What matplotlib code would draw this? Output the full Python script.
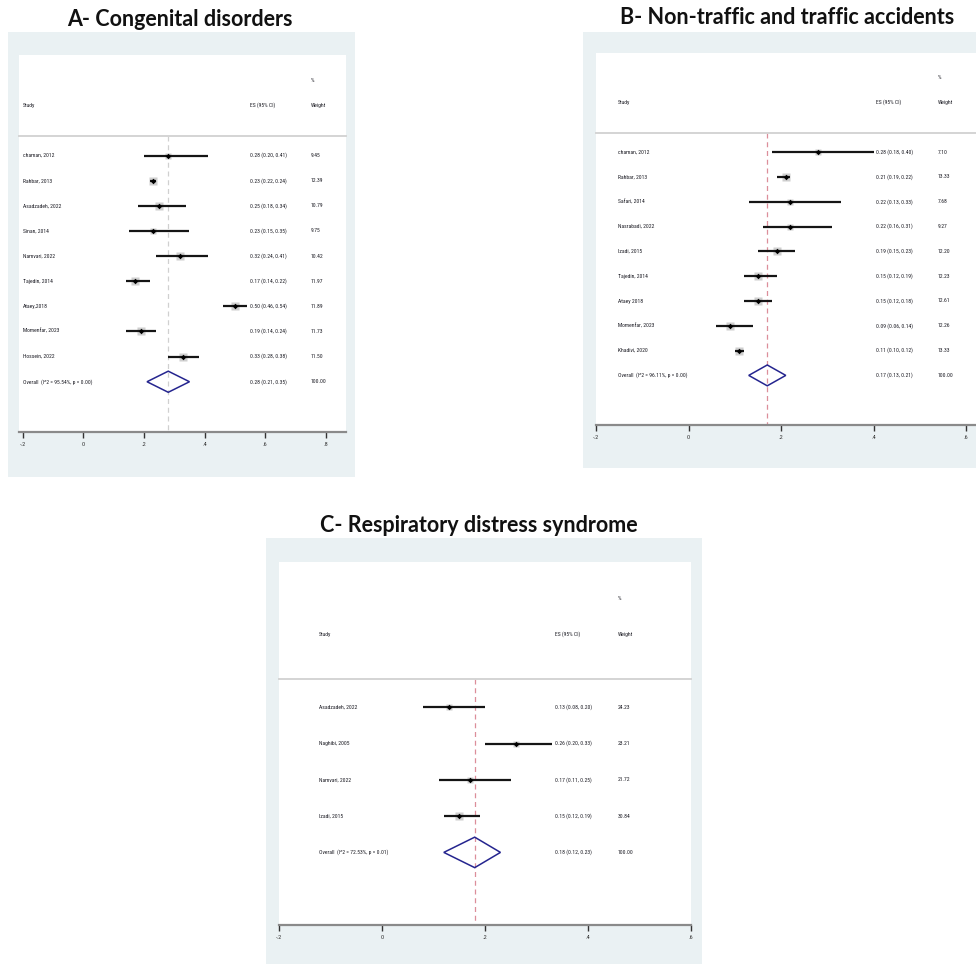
import matplotlib
matplotlib.use("Agg")
import matplotlib.pyplot as plt
from matplotlib import font_manager
from matplotlib.patches import Rectangle, Polygon
import numpy as np

# ---------------- data ----------------
# A - Congenital disorders
a_studies = ["chaman, 2012", "Rahbar, 2013", "Asadzadeh, 2022", "Sinan, 2014",
             "Namvari, 2022", "Tajedin, 2014", "Ataey,2018", "Momenfar, 2023",
             "Hossein, 2022"]
a_es = [0.28, 0.23, 0.25, 0.23, 0.32, 0.17, 0.50, 0.19, 0.33]
a_lo = [0.20, 0.22, 0.18, 0.15, 0.24, 0.14, 0.46, 0.14, 0.28]
a_hi = [0.41, 0.24, 0.34, 0.35, 0.41, 0.22, 0.54, 0.24, 0.38]
a_wt = [9.45, 12.39, 10.79, 9.75, 10.42, 11.97, 11.89, 11.73, 11.50]
a_overall = (0.28, 0.21, 0.35)
a_i2, a_p = 95.54, 0.00

# B - Non-traffic and traffic accidents
b_studies = ["chaman, 2012", "Rahbar, 2013", "Safari, 2014", "Nasrabadi, 2022",
             "Izadi, 2015", "Tajedin, 2014", "Ataey 2018", "Momenfar, 2023",
             "Khadivi, 2020"]
b_es = [0.28, 0.21, 0.22, 0.22, 0.19, 0.15, 0.15, 0.09, 0.11]
b_lo = [0.18, 0.19, 0.13, 0.16, 0.15, 0.12, 0.12, 0.06, 0.10]
b_hi = [0.40, 0.22, 0.33, 0.31, 0.23, 0.19, 0.18, 0.14, 0.12]
b_wt = [7.10, 13.33, 7.68, 9.27, 12.20, 12.23, 12.61, 12.26, 13.33]
b_overall = (0.17, 0.13, 0.21)
b_i2, b_p = 96.11, 0.00

# C - Respiratory distress syndrome
c_studies = ["Asadzadeh, 2022", "Naghibi, 2005", "Namvari, 2022", "Izadi, 2015"]
c_es = [0.13, 0.26, 0.17, 0.15]
c_lo = [0.08, 0.20, 0.11, 0.12]
c_hi = [0.20, 0.33, 0.25, 0.19]
c_wt = [24.23, 23.21, 21.72, 30.84]
c_overall = (0.18, 0.12, 0.23)
c_i2, c_p = 72.53, 0.01

x_ticks = [-0.2, 0.0, 0.2, 0.4, 0.6, 0.8]
x_tick_labels = ["-.2", "0", ".2", ".4", ".6", ".8"]

# ---------------- fonts ----------------
_installed = {f.name for f in font_manager.fontManager.ttflist}
_narrow = [n for n in ("Liberation Sans Narrow", "Roboto Condensed",
                       "Open Sans Condensed", "Arial Narrow") if n in _installed]
if _narrow:
    FONT = [_narrow[0], "Liberation Sans", "DejaVu Sans"]
    FS = 4.1
else:
    FONT = ["Liberation Sans", "DejaVu Sans"]
    FS = 3.6
TITLE_FONT = ["Lato", "Open Sans", "DejaVu Sans"]

# ---------------- layout ----------------
W, H = 976, 964
fig = plt.figure(figsize=(W / 100, H / 100), dpi=100)
fig.patch.set_facecolor("white")

BG = "#eaf1f3"
TXT = "#1c1c24"


def frac_rect(x0, y0, x1, y1):
    return [x0 / W, 1 - y1 / H, (x1 - x0) / W, (y1 - y0) / H]


def forest(region, plot, xlim, cols, studies, es, lo, hi, wt, overall, i2, p,
           refcolor, title, title_xy):
    # outer graph region (drawn beneath the axes)
    r = frac_rect(*region)
    fig.patches.append(Rectangle((r[0], r[1]), r[2], r[3], transform=fig.transFigure,
                                 facecolor=BG, edgecolor="none", zorder=-5))
    fig.text(title_xy[0] / W, 1 - title_xy[1] / H, title, ha="center", va="center",
             fontsize=15.5, fontweight="bold", family=TITLE_FONT, color="#111111")

    ax = fig.add_axes(frac_rect(*plot))
    ax.set_zorder(2)
    ax.set_facecolor("white")
    n = len(studies)
    ax.set_xlim(*xlim)
    ax.set_ylim(n + 2, -4)
    for s in ("top", "left", "right"):
        ax.spines[s].set_visible(False)
    ax.spines["bottom"].set_color("#8a8a8a")
    ax.spines["bottom"].set_linewidth(1.6)
    ax.set_yticks([])
    ticks = [t for t in x_ticks if xlim[0] - 1e-9 <= t <= xlim[1] + 1e-9]
    ax.set_xticks(ticks)
    ax.set_xticklabels([x_tick_labels[x_ticks.index(t)] for t in ticks])
    ax.tick_params(axis="x", direction="out", length=4, width=1.0, color="#333333",
                   labelsize=FS + 0.4, labelcolor="#333333", pad=3)
    for lab in ax.get_xticklabels():
        lab.set_family(FONT)

    tr = ax.get_yaxis_transform()  # x in axes fraction, y in data
    sep = -0.77
    ax.plot([0, 1], [sep, sep], transform=tr, color="#d4d4d4", lw=1.4, clip_on=False)

    # headers
    xs, xe, xw = cols
    hk = dict(transform=tr, fontsize=FS, family=FONT, color=TXT, va="center")
    ax.text(xw, -3, "%", **hk)
    ax.text(xs, -2, "Study", **hk)
    ax.text(xe, -2, "ES (95% CI)", **hk)
    ax.text(xw, -2, "Weight", **hk)

    # reference line at overall estimate
    ax.plot([overall[0], overall[0]], [sep, n + 2], color=refcolor, lw=0.9,
            ls=(0, (4, 3)), zorder=1)

    wmax = max(wt)
    ys = np.arange(n)
    for y, s, e, l, h, w in zip(ys, studies, es, lo, hi, wt):
        ax.plot([l, h], [y, y], color="#151515", lw=1.6, zorder=3, solid_capstyle="butt")
        ax.plot(e, y, marker="s", ms=5.5 * np.sqrt(w / wmax), color="#cfcfcf",
                mec="none", zorder=2)
        ax.plot(e, y, marker="D", ms=2.8, color="#000000", mec="none", zorder=4)
        ax.text(xs, y, s, **hk)
        ax.text(xe, y, f"{e:.2f} ({l:.2f}, {h:.2f})", **hk)
        ax.text(xw, y, f"{w:.2f}", **hk)

    # pooled estimate diamond
    yo = n
    oe, ol, oh = overall
    ax.add_patch(Polygon([[ol, yo], [oe, yo - 0.42], [oh, yo], [oe, yo + 0.42]],
                         closed=True, fill=False, edgecolor="#25258f", lw=1.1, zorder=4))
    ax.text(xs, yo, f"Overall  (I^2 = {i2:.2f}%, p = {p:.2f})", **hk)
    ax.text(xe, yo, f"{oe:.2f} ({ol:.2f}, {oh:.2f})", **hk)
    ax.text(xw, yo, "100.00", **hk)
    return ax


forest(region=(8, 32, 355, 477), plot=(19, 55, 346, 432), xlim=(-0.212, 0.866),
       cols=(0.012, 0.706, 0.893), studies=a_studies, es=a_es, lo=a_lo, hi=a_hi,
       wt=a_wt, overall=a_overall, i2=a_i2, p=a_p, refcolor="#d0d0d0",
       title="A- Congenital disorders", title_xy=(180, 20))

forest(region=(583, 32, 976, 468), plot=(596, 53, 976, 425), xlim=(-0.2, 0.621),
       cols=(0.058, 0.737, 0.900), studies=b_studies, es=b_es, lo=b_lo, hi=b_hi,
       wt=b_wt, overall=b_overall, i2=b_i2, p=b_p, refcolor="#dc8e9a",
       title="B- Non-traffic and traffic accidents", title_xy=(787, 18))

forest(region=(266, 538, 702, 964), plot=(279, 562, 691, 925), xlim=(-0.2, 0.6),
       cols=(0.097, 0.670, 0.823), studies=c_studies, es=c_es, lo=c_lo, hi=c_hi,
       wt=c_wt, overall=c_overall, i2=c_i2, p=c_p, refcolor="#dc8e9a",
       title="C- Respiratory distress syndrome", title_xy=(479, 526))

fig.savefig("out.png", dpi=100, facecolor="white")
